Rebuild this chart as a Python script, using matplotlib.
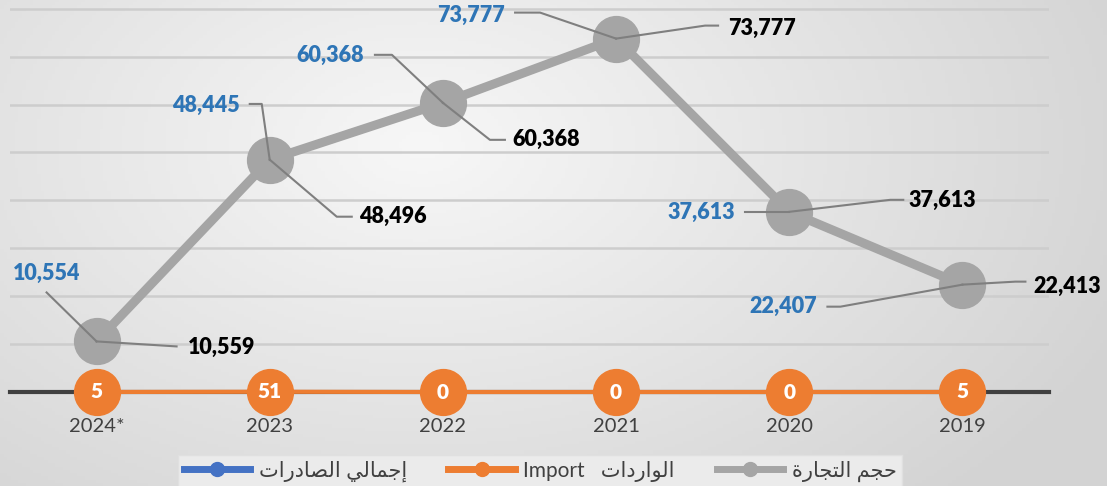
import matplotlib
matplotlib.use("Agg")
import matplotlib.pyplot as plt
from matplotlib.lines import Line2D
import numpy as np

plt.rcParams['font.family'] = ['Lato', 'DejaVu Sans']

years = ['2024*', '2023', '2022', '2021', '2020', '2019']
exports = [10554, 48445, 60368, 73777, 37613, 22407]
imports = [5, 51, 0, 0, 0, 5]
trade = [10559, 48496, 60368, 73777, 37613, 22413]

# label placement, pixel offsets from the point (x right, y down)
exp_text = [(-50, -68, 'center'), (-30, -55, 'right'), (-79, -47, 'right'),
            (-111, -23, 'right'), (-54, 1, 'right'), (-145, 22, 'right')]
exp_lead = [[(-50, -49)], [(-8, -56), (-20, -56)], [(-51, -48), (-68, -48)],
            [(-76, -26), (-101, -26)], [(-44, 0)], [(-122, 22), (-135, 22)]]
trd_text = [(91, 6), (89, 57), (69, 37), (112, -10), (119, -11), (71, 2)]
trd_lead = [[(80, 5)], [(67, 57), (82, 57)], [(47, 37), (62, 37)],
            [(89, -13), (102, -13)], [(101, -12), (114, -12)], [(53, -3), (63, -3)]]

# minimal arabic shaping (matplotlib has no bidi / joining support)
FORMS = {
    'ا': ('\uFE8D', '\uFE8E', None, None),
    'إ': ('\uFE87', '\uFE88', None, None),
    'ت': ('\uFE95', '\uFE96', '\uFE97', '\uFE98'),
    'ة': ('\uFE93', '\uFE94', None, None),
    'ج': ('\uFE9D', '\uFE9E', '\uFE9F', '\uFEA0'),
    'ح': ('\uFEA1', '\uFEA2', '\uFEA3', '\uFEA4'),
    'د': ('\uFEA9', '\uFEAA', None, None),
    'ر': ('\uFEAD', '\uFEAE', None, None),
    'ص': ('\uFEB9', '\uFEBA', '\uFEBB', '\uFEBC'),
    'ل': ('\uFEDD', '\uFEDE', '\uFEDF', '\uFEE0'),
    'م': ('\uFEE1', '\uFEE2', '\uFEE3', '\uFEE4'),
    'و': ('\uFEED', '\uFEEE', None, None),
    'ي': ('\uFEF1', '\uFEF2', '\uFEF3', '\uFEF4'),
}


def shape(s):
    out = []
    for i, ch in enumerate(s):
        if ch not in FORMS:
            out.append(ch)
            continue
        prev = s[i - 1] if i > 0 else ''
        nxt = s[i + 1] if i + 1 < len(s) else ''
        jp = prev in FORMS and FORMS[prev][2] is not None
        jn = FORMS[ch][2] is not None and nxt in FORMS
        iso, fin, ini, med = FORMS[ch]
        out.append(med if jp and jn else fin if jp else ini if jn else iso)
    return ''.join(reversed(out))


fig = plt.figure(figsize=(11.07, 4.86), dpi=100)

# background gradient
bg = fig.add_axes([0, 0, 1, 1], zorder=-10)
gx, gy = np.meshgrid(np.linspace(0, 1, 300), np.linspace(0, 1, 150))
d = np.sqrt(((gx - 0.38) / 0.62) ** 2 + ((gy - 0.3) / 0.9) ** 2)
v = (247 - 32 * np.clip(d, 0, 1.1)) / 255
bg.imshow(np.dstack([v, v, v]), aspect='auto', extent=(0, 1, 0, 1))
bg.axis('off')

H = 486
ax = fig.add_axes([10 / 1107, (H - 392) / H, 1039 / 1107, 388 / H])
ax.set_facecolor('none')
x = np.arange(len(years))
ax.set_xlim(-0.5, len(years) - 0.5)
ax.set_ylim(0, 81000)

ax.set_yticks(range(10000, 80001, 10000))
ax.yaxis.grid(True, color='#cdcdcd', lw=1.8)
ax.tick_params(axis='y', length=0, labelleft=False)
ax.set_xticks(x)
ax.set_xticklabels(years, fontsize=14.5, color='#404040')
ax.tick_params(axis='x', length=0, pad=19)
for s in ['left', 'right', 'top']:
    ax.spines[s].set_visible(False)
ax.spines['bottom'].set_color('#404040')
ax.spines['bottom'].set_linewidth(3)

ax.plot(x, exports, color='#4472c4', lw=2.5, marker='o', ms=10, zorder=3, clip_on=False)
ax.plot(x, trade, color='#a5a5a5', lw=6.5, marker='o', ms=33, zorder=4, clip_on=False)
ax.plot(x, imports, color='#ed7d31', lw=3, marker='o', ms=33, zorder=5, clip_on=False)

for xi, val in zip(x, imports):
    ax.text(xi, val, str(val), color='white', fontsize=15, fontweight='heavy',
            ha='center', va='center', zorder=6)


def leader(xi, yi, pts):
    px, py = ax.transData.transform((xi, yi))
    path = [(px, py)] + [(px + dx, py - dy) for dx, dy in pts]
    dat = ax.transData.inverted().transform(np.array(path))
    ax.plot(dat[:, 0], dat[:, 1], color='#7f7f7f', lw=1.5, zorder=5, clip_on=False)


for xi, val, (dx, dy, ha), pts in zip(x, exports, exp_text, exp_lead):
    leader(xi, val, pts)
    ax.annotate(f'{val:,}', (xi, val), xytext=(dx, -dy), textcoords='offset pixels',
                ha=ha, va='center', color='#2e75b6', fontsize=15.5, fontweight='heavy',
                annotation_clip=False)

for xi, val, (dx, dy), pts in zip(x, trade, trd_text, trd_lead):
    leader(xi, val, pts)
    ax.annotate(f'{val:,}', (xi, val), xytext=(dx, -dy), textcoords='offset pixels',
                ha='left', va='center', color='black', fontsize=15.5, fontweight='heavy',
                annotation_clip=False)

handles = [
    Line2D([], [], color='#4472c4', lw=5, marker='o', ms=10),
    Line2D([], [], color='#ed7d31', lw=5, marker='o', ms=10),
    Line2D([], [], color='#a5a5a5', lw=5, marker='o', ms=10),
]
labels = [shape('إجمالي الصادرات'), 'Import   ' + shape('الواردات'), shape('حجم التجارة')]
leg = fig.legend(handles, labels, loc='upper center', bbox_to_anchor=(540 / 1107, 1 - 445 / H),
                 ncol=3, fontsize=15, frameon=True, fancybox=False, handlelength=3.2,
                 handletextpad=0.4, columnspacing=2.0, borderpad=0.25, labelcolor='#404040')
leg.get_frame().set_facecolor('#ebebeb')
leg.get_frame().set_edgecolor('#e0e0e0')
leg.get_frame().set_alpha(1)

fig.savefig('out.png', dpi=100)
